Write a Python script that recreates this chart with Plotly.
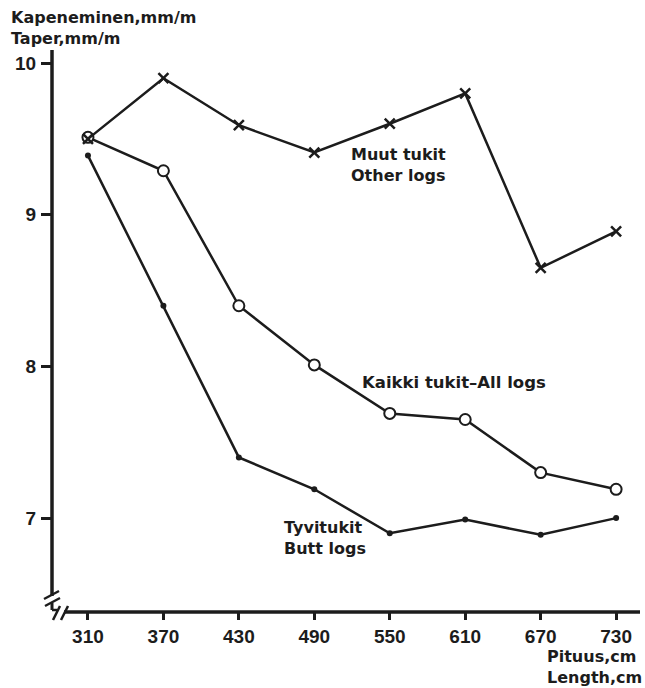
import plotly.graph_objects as go

lengths = [310, 370, 430, 490, 550, 610, 670, 730]
other_logs = [9.50, 9.90, 9.59, 9.41, 9.60, 9.80, 8.65, 8.89]
all_logs = [9.51, 9.29, 8.40, 8.01, 7.69, 7.65, 7.30, 7.19]
butt_logs = [9.39, 8.40, 7.40, 7.19, 6.90, 6.99, 6.89, 7.00]
y_ticks = [7, 8, 9, 10]

INK = "#1c1c1c"
LBL = dict(family="DejaVu Sans", size=16, color=INK, weight="bold")
TICKF = dict(family="Liberation Sans", size=19, color=INK, weight="bold")

W, H = 645, 688
ML, MR, MT, MB = 52, 5, 50, 76
PW, PH = W - ML - MR, H - MT - MB


def px(xp):
    return (xp - ML) / PW


def py(yp):
    return (H - MB - yp) / PH


fig = go.Figure()
fig.add_trace(go.Scatter(x=lengths, y=butt_logs, mode="lines+markers",
                         line=dict(color=INK, width=2.5),
                         marker=dict(symbol="circle", size=6, color=INK),
                         showlegend=False))
fig.add_trace(go.Scatter(x=lengths, y=all_logs, mode="lines+markers",
                         line=dict(color=INK, width=2.5),
                         marker=dict(symbol="circle", size=11, color="white",
                                     line=dict(color=INK, width=2)),
                         showlegend=False))
fig.add_trace(go.Scatter(x=lengths, y=other_logs, mode="lines+markers",
                         line=dict(color=INK, width=2.5),
                         marker=dict(symbol="x-thin", size=10, color=INK,
                                     line=dict(color=INK, width=2.5)),
                         showlegend=False))

shapes = []
# y axis line (broken near the bottom)
shapes.append(dict(type="line", xref="paper", yref="paper", x0=0, x1=0,
                   y0=py(596), y1=1, line=dict(color=INK, width=3.5)))
# x axis line
shapes.append(dict(type="line", xref="paper", yref="paper", x0=px(64), x1=1,
                   y0=0, y1=0, line=dict(color=INK, width=3.5)))
# break marks
for (x0, y0, x1, y1) in [(44, 599, 59, 591), (45, 606, 60, 598),
                         (53, 620, 60, 606), (61, 620, 68, 606)]:
    shapes.append(dict(type="line", xref="paper", yref="paper",
                       x0=px(x0), y0=py(y0), x1=px(x1), y1=py(y1),
                       line=dict(color=INK, width=2.5)))
shapes.append(dict(type="line", xref="paper", yref="paper",
                   x0=px(52), y0=py(603), x1=px(52), y1=py(610),
                   line=dict(color=INK, width=3)))
shapes.append(dict(type="line", xref="paper", yref="paper",
                   x0=px(52), y0=py(610), x1=px(57), y1=py(610),
                   line=dict(color=INK, width=2.5)))

annotations = [
    dict(text="Kapeneminen,mm/m<br>Taper,mm/m", xref="paper", yref="paper",
         x=px(9), y=py(28.5), xanchor="left", yanchor="middle", align="left",
         showarrow=False, font=LBL),
    dict(text="Muut tukit<br>Other logs", xref="x", yref="y",
         x=517.5, y=9.33, xanchor="left", yanchor="middle", align="left",
         showarrow=False, font=LBL),
    dict(text="Kaikki tukit\u2013All logs", xref="x", yref="y",
         x=526.3, y=7.897, xanchor="left", yanchor="middle", align="left",
         showarrow=False, font=dict(LBL, size=16.5)),
    dict(text="Tyvitukit<br>Butt logs", xref="x", yref="y",
         x=464.2, y=6.869, xanchor="left", yanchor="middle", align="left",
         showarrow=False, font=LBL),
    dict(text="Pituus,cm<br>Length,cm", xref="x", yref="paper",
         x=674.1, y=py(667), xanchor="left", yanchor="middle", align="left",
         showarrow=False, font=LBL, borderpad=0),
]

fig.update_layout(
    width=W, height=H,
    margin=dict(l=ML, r=MR, t=MT, b=MB),
    paper_bgcolor="white", plot_bgcolor="white",
    shapes=shapes, annotations=annotations,
    xaxis=dict(range=[281.4, 749], tickvals=lengths,
               ticktext=[str(v) for v in lengths],
               showgrid=False, zeroline=False, showline=False,
               ticks="outside", ticklen=7, tickwidth=2.5, tickcolor=INK,
               tickfont=TICKF),
    yaxis=dict(range=[6.381, 10.086], tickvals=y_ticks,
               ticktext=[str(v) for v in y_ticks],
               showgrid=False, zeroline=False, showline=False,
               ticks="outside", ticklen=10, tickwidth=2.5, tickcolor=INK,
               tickfont=TICKF, ticklabelstandoff=1),
)

fig.write_html("out.html")
